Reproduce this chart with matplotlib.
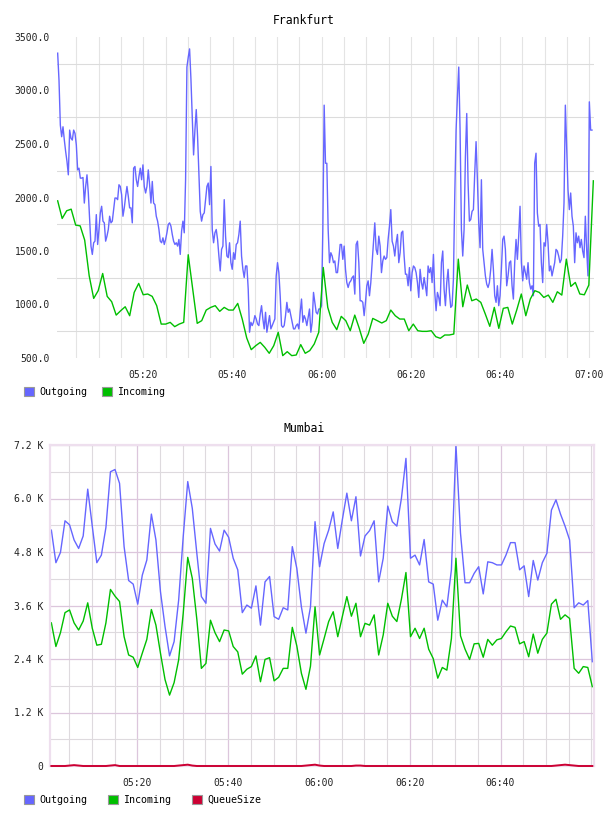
import numpy as np
import pandas as pd
import matplotlib
matplotlib.use("Agg")
import matplotlib.pyplot as plt
import matplotlib.dates as mdates
from matplotlib.patches import Patch
from matplotlib.ticker import FuncFormatter, MultipleLocator

plt.rcParams['font.family'] = ['DejaVu Sans Mono']

# --- Frankfurt ---
fra_outgoing = [
    3349, 3095, 2677, 2568, 2661, 2537, 2429, 2336, 2212, 2630, 2553, 2537, 2630, 2599, 2491, 2258, 2274, 2181,
    2181, 2187, 1948, 2103, 2212, 2042, 1794, 1546, 1468, 1577, 1592, 1840, 1561, 1701, 1856, 1918, 1779, 1763,
    1592, 1639, 1701, 1825, 1763, 1779, 1887, 1995, 1995, 1980, 2119, 2103, 2026, 1825, 1903, 2011, 2103, 2011,
    1903, 1903, 1763, 2274, 2290, 2166, 2103, 2197, 2274, 2166, 2305, 2103, 2042, 2103, 2258, 2119, 1948, 2150,
    1948, 1933, 1825, 1779, 1701, 1592, 1577, 1623, 1561, 1608, 1670, 1748, 1763, 1732, 1655, 1592, 1561, 1577,
    1546, 1608, 1468, 1686, 1779, 1670, 2166, 3219, 3312, 3389, 3111, 2754, 2398, 2630, 2822, 2568, 2228, 1871,
    1779, 1840, 1856, 1980, 2103, 2135, 1933, 2290, 1701, 1577, 1670, 1701, 1608, 1453, 1314, 1515, 1546, 1980,
    1639, 1453, 1438, 1577, 1391, 1329, 1484, 1422, 1561, 1577, 1655, 1779, 1453, 1329, 1252, 1360, 1360, 1144,
    741, 834, 803, 834, 896, 865, 818, 803, 911, 989, 865, 772, 927, 741, 818, 896, 772, 803, 834, 865, 1267,
    1391, 1298, 1082, 803, 787, 803, 896, 1020, 927, 958, 896, 834, 772, 772, 803, 818, 772, 927, 1051, 834, 896,
    865, 803, 880, 958, 741, 834, 1113, 1020, 927, 911, 958, 958, 989, 1701, 2863, 2320,
    2320, 1701, 1391, 1484, 1453, 1391, 1407, 1298, 1298, 1422, 1561, 1561, 1422, 1546, 1329, 1205, 1159, 1205,
    1221, 1252, 1267, 1097, 1561, 1592, 1391, 1035, 1035, 1020, 896, 1020, 1175, 1221, 1082, 1205, 1391, 1577,
    1763, 1515, 1468, 1639, 1546, 1298, 1407, 1453, 1422, 1438, 1608, 1732, 1887, 1592, 1546, 1453, 1577, 1655,
    1391, 1484, 1670, 1686, 1453, 1283, 1283, 1175, 1345, 1128, 1298, 1360, 1345, 1298, 1205, 1066, 1329, 1205,
    1144, 1252, 1175, 1082, 1360, 1298, 1345, 1205, 1468, 1113, 942, 1113, 1066, 989, 1391, 1500, 1144, 989,
    1205, 1329, 1113, 973, 989, 1236, 2011, 2630, 2940, 3219, 2630, 1701, 1453, 1701, 2383, 2785, 2135, 1779,
    1794, 1871, 1887, 2228, 2522, 2166, 1763, 1531, 2166, 1515, 1391, 1267, 1190, 1159, 1205, 1329, 1515, 1329,
    1082, 1020, 1175, 989, 1082, 1329, 1608, 1639, 1515, 1175, 1267, 1391, 1407, 1175, 1051, 1391, 1608, 1422,
    1639, 1918, 1391, 1221, 1360, 1298, 1236, 1391, 1205, 1144, 1175, 1082, 2321, 2414, 1856, 1732, 1748, 1391,
    1205, 1577, 1546, 1748, 1577, 1314, 1360, 1267, 1329, 1391, 1515, 1500, 1453, 1391, 1422, 1639, 1949, 2863,
    2475, 2073, 1887, 2042, 1825, 1732, 1391, 1670, 1577, 1639, 1531, 1608, 1500, 1438, 1825, 1515, 1267, 2894,
    2630, 2630,
]
fra_incoming = [
    1969, 1804, 1876, 1891, 1742, 1735, 1602, 1269, 1057, 1129, 1290, 1076, 1026, 901, 942, 979, 895, 1113,
    1197, 1091, 1098, 1076, 989, 817, 817, 833, 793, 817, 833, 1465, 1144, 824, 849, 948, 973, 989, 936, 973,
    948, 948, 1010, 864, 687, 578, 615, 646, 600, 544, 615, 740, 522, 559, 522, 528, 625, 544, 569, 631, 740,
    1346, 973, 833, 765, 889, 849, 755, 901, 777, 637, 724, 870, 849, 827, 849, 948, 895, 864, 864, 755, 817,
    755, 749, 749, 755, 699, 684, 715, 715, 724, 1424, 979, 1182, 1035, 1051, 1020, 911, 796, 973, 777, 964,
    973, 817, 951, 1098, 895, 1051, 1129, 1113, 1066, 1088, 1020, 1119, 1088, 1424, 1169, 1206, 1098, 1091,
    1182, 2156,
]
fra_yticks = [500, 1000, 1500, 2000, 2500, 3000, 3500]
fra_ygrid = [750, 1250, 1750, 2250, 2750, 3250]

# --- Mumbai (values in K) ---
mum_outgoing = [
    5.29, 4.56, 4.79, 5.50, 5.41, 5.07, 4.88, 5.16, 6.21, 5.38, 4.56, 4.73, 5.35, 6.60, 6.65, 6.34, 4.92, 4.16,
    4.08, 3.63, 4.28, 4.62, 5.65, 5.07, 3.91, 3.13, 2.47, 2.79, 3.72, 5.14, 6.38, 5.78, 4.77, 3.80, 3.65, 5.33,
    4.98, 4.82, 5.29, 5.13, 4.66, 4.40, 3.44, 3.61, 3.54, 4.04, 3.16, 4.13, 4.25, 3.35, 3.29, 3.55, 3.50, 4.92,
    4.43, 3.57, 2.98, 3.57, 5.48, 4.47, 4.99, 5.29, 5.70, 4.88, 5.52, 6.12, 5.50, 6.04, 4.71, 5.16, 5.28, 5.50,
    4.13, 4.66, 5.83, 5.48, 5.38, 6.00, 6.90, 4.66, 4.73, 4.51, 5.08, 4.13, 4.08, 3.27, 3.72, 3.57, 4.40, 7.20,
    5.22, 4.11, 4.11, 4.32, 4.47, 3.86, 4.58, 4.56, 4.51, 4.51, 4.73, 5.01, 5.01, 4.40, 4.49, 3.80, 4.61, 4.17,
    4.56, 4.77, 5.74, 5.97, 5.65, 5.38, 5.07, 3.55, 3.66, 3.61, 3.71, 2.34,
]
mum_incoming = [
    3.21, 2.68, 2.99, 3.44, 3.50, 3.21, 3.05, 3.25, 3.66, 3.09, 2.71, 2.73, 3.21, 3.96, 3.81, 3.69, 2.90, 2.49,
    2.44, 2.21, 2.53, 2.84, 3.51, 3.16, 2.53, 1.94, 1.59, 1.87, 2.38, 3.42, 4.68, 4.21, 3.29, 2.19, 2.30, 3.27,
    2.99, 2.79, 3.05, 3.03, 2.68, 2.56, 2.06, 2.17, 2.23, 2.47, 1.89, 2.39, 2.43, 1.91, 1.99, 2.19, 2.19, 3.11,
    2.69, 2.08, 1.72, 2.24, 3.57, 2.49, 2.86, 3.24, 3.46, 2.90, 3.35, 3.80, 3.36, 3.65, 2.90, 3.20, 3.16, 3.39,
    2.49, 2.94, 3.65, 3.36, 3.24, 3.74, 4.34, 2.90, 3.09, 2.86, 3.09, 2.62, 2.41, 1.97, 2.21, 2.15, 2.86, 4.66,
    2.92, 2.62, 2.39, 2.74, 2.75, 2.44, 2.84, 2.71, 2.83, 2.86, 3.01, 3.14, 3.11, 2.74, 2.79, 2.45, 2.96, 2.53,
    2.84, 2.98, 3.63, 3.74, 3.29, 3.39, 3.31, 2.19, 2.08, 2.23, 2.21, 1.78,
]
mum_queue = [
    0, 0, 0, 0, 0.01, 0.02, 0.01, 0, 0, 0, 0, 0, 0, 0.01, 0.02, 0, 0, 0, 0, 0,
    0, 0, 0, 0, 0, 0, 0, 0, 0.01, 0.02, 0.03, 0.01, 0, 0, 0, 0, 0, 0, 0, 0,
    0, 0, 0, 0, 0, 0, 0, 0, 0, 0, 0, 0, 0, 0, 0, 0, 0.01, 0.02, 0.03, 0.01,
    0, 0, 0, 0, 0, 0, 0, 0.01, 0.01, 0, 0, 0, 0, 0, 0, 0, 0, 0, 0, 0,
    0, 0, 0, 0, 0, 0, 0, 0, 0, 0, 0, 0, 0, 0, 0, 0, 0, 0, 0, 0,
    0, 0, 0, 0, 0, 0, 0, 0, 0, 0, 0, 0.01, 0.02, 0.03, 0.02, 0.01, 0, 0, 0, 0,
]
mum_yticks = [0, 1.2, 2.4, 3.6, 4.8, 6.0, 7.2]

day = "2015-01-01 "
fra_out_t = pd.date_range(day + "05:00:48", day + "07:00:36", periods=len(fra_outgoing))
fra_in_t = pd.date_range(day + "05:00:48", day + "07:00:54", periods=len(fra_incoming))
mum_t = pd.date_range(day + "05:01:04", day + "07:00:13", periods=len(mum_outgoing))

BLUE = "#6666ff"
GREEN = "#00bf00"
RED = "#cc0033"
W, H = 608, 816

fig = plt.figure(figsize=(W / 100, H / 100), dpi=100)

def box(l, t, r, b):
    return [l / W, 1 - b / H, (r - l) / W, (b - t) / H]

# Frankfurt
ax1 = fig.add_axes(box(57, 37, 594, 358))
ax1.plot(fra_out_t, fra_outgoing, color=BLUE, lw=1.0)
ax1.plot(fra_in_t, fra_incoming, color=GREEN, lw=1.0)
ax1.set_xlim(pd.Timestamp(day + "05:00:39"), pd.Timestamp(day + "07:01:03"))
ax1.set_ylim(500, 3500)
ax1.set_yticks(fra_yticks)
ax1.set_yticks(fra_ygrid, minor=True)
ax1.yaxis.set_major_formatter(FuncFormatter(lambda v, p: f"{v:.1f}"))
ax1.xaxis.set_major_locator(mdates.MinuteLocator(byminute=[0, 20, 40]))
ax1.xaxis.set_minor_locator(mdates.MinuteLocator(byminute=range(0, 60, 5)))
ax1.xaxis.set_major_formatter(mdates.DateFormatter("%H:%M"))
ax1.xaxis.grid(True, which="both", color="#e4e4e4", lw=0.8)
ax1.yaxis.grid(True, which="minor", color="#dcdcdc", lw=0.8)
ax1.set_axisbelow(True)
for s in ax1.spines.values():
    s.set_visible(False)
ax1.tick_params(which="both", length=0, labelsize=7, colors="#222222")
ax1.tick_params(axis="y", pad=5)
ax1.tick_params(axis="x", pad=9)

fig.text(0.5, 1 - 20 / H, "Frankfurt", ha="center", va="center", fontsize=8.3)
fig.legend(handles=[Patch(facecolor=BLUE, edgecolor="#999999", lw=0.8, label="Outgoing"),
                    Patch(facecolor=GREEN, edgecolor="#999999", lw=0.8, label="Incoming")],
           loc="center left", bbox_to_anchor=(24 / W, 1 - 392 / H), ncol=2, frameon=False,
           fontsize=7.2, handlelength=1.0, handleheight=1.0, handletextpad=0.5,
           columnspacing=1.5, borderpad=0, borderaxespad=0)

# Mumbai
PINK = "#dcc6dc"
ax2 = fig.add_axes(box(50, 445, 594, 766))
ax2.plot(mum_t, mum_outgoing, color=BLUE, lw=1.0)
ax2.plot(mum_t, mum_incoming, color=GREEN, lw=1.0)
ax2.plot(mum_t, mum_queue, color=RED, lw=1.4, clip_on=False, zorder=5)
ax2.set_xlim(pd.Timestamp(day + "05:00:46"), pd.Timestamp(day + "07:00:35"))
ax2.set_ylim(0, 7.2)
ax2.set_yticks(mum_yticks)
ax2.yaxis.set_minor_locator(MultipleLocator(0.6))
ax2.yaxis.set_major_formatter(FuncFormatter(lambda v, p: "0" if v == 0 else f"{v:.1f} K"))
ax2.set_xticks(pd.date_range(day + "05:20", day + "06:40", freq="20min"))
ax2.xaxis.set_minor_locator(mdates.MinuteLocator(byminute=range(0, 60, 5)))
ax2.xaxis.set_major_formatter(mdates.DateFormatter("%H:%M"))
ax2.grid(True, which="major", color=PINK, lw=0.9)
ax2.grid(True, which="minor", color="#dedade", lw=0.8)
ax2.set_axisbelow(True)
for s in ax2.spines.values():
    s.set_color("#eedfee")
    s.set_linewidth(1.6)
ax2.tick_params(which="both", length=0, labelsize=7, colors="#222222")
ax2.tick_params(axis="y", pad=5)
ax2.tick_params(axis="x", pad=9)

fig.text(0.5, 1 - 429 / H, "Mumbai", ha="center", va="center", fontsize=8.3)
fig.legend(handles=[Patch(facecolor=BLUE, edgecolor="#999999", lw=0.8, label="Outgoing"),
                    Patch(facecolor=GREEN, edgecolor="#999999", lw=0.8, label="Incoming"),
                    Patch(facecolor=RED, edgecolor="#999999", lw=0.8, label="QueueSize")],
           loc="center left", bbox_to_anchor=(24 / W, 1 - 800 / H), ncol=3, frameon=False,
           fontsize=7.2, handlelength=1.0, handleheight=1.0, handletextpad=0.5,
           columnspacing=2.1, borderpad=0, borderaxespad=0)

fig.savefig("out.png", dpi=100)
